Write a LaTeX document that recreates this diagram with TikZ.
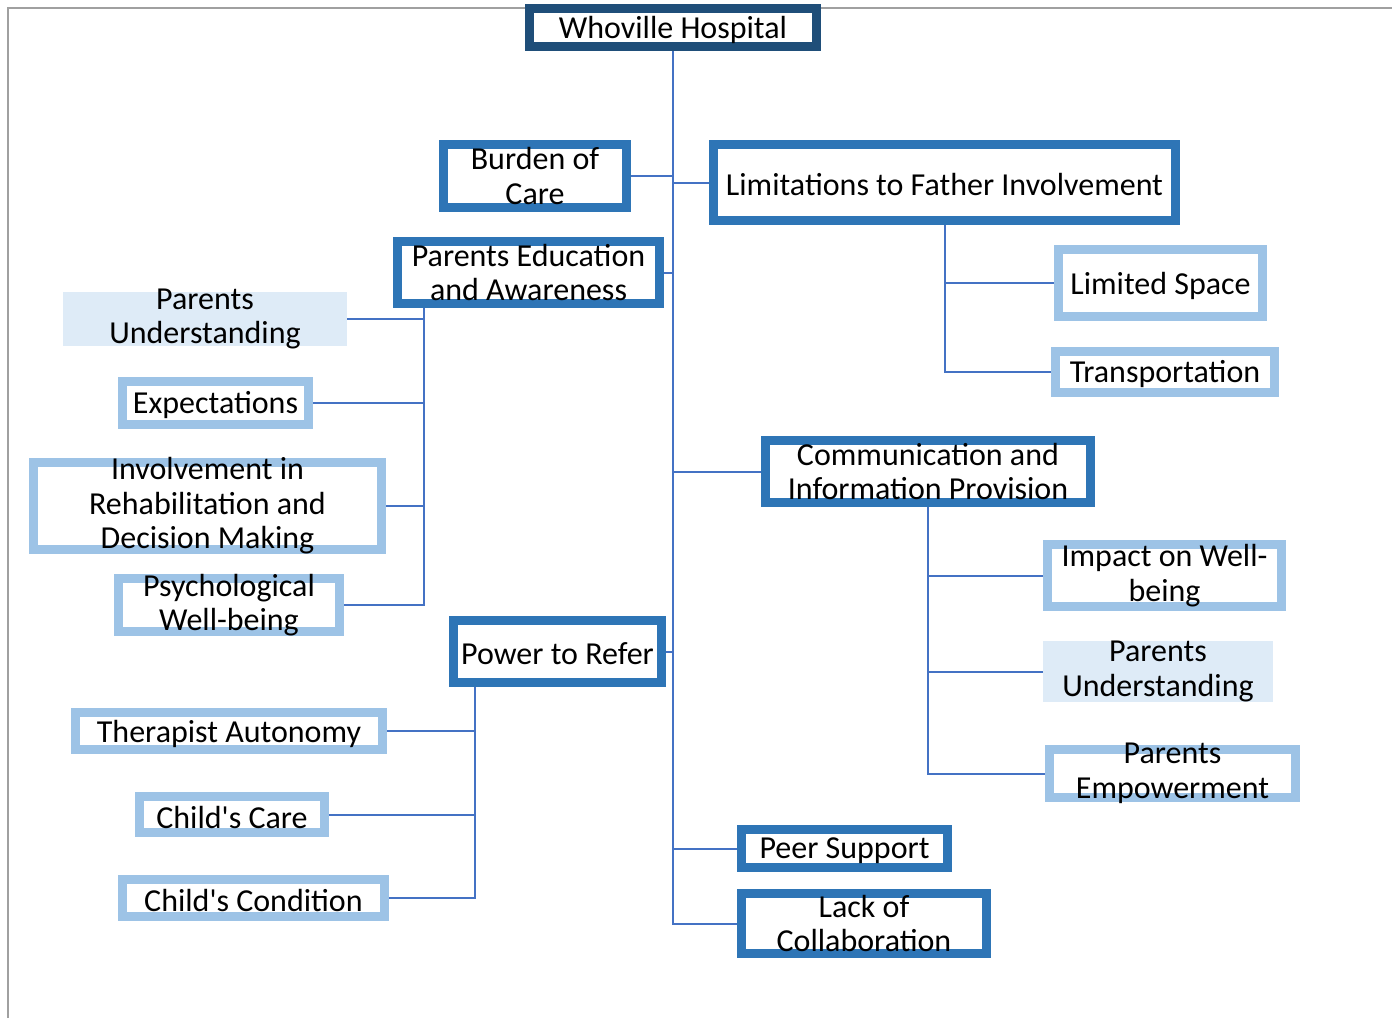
\documentclass[tikz,border=0pt]{standalone}
\usepackage{fontspec}
\setmainfont{Carlito}[Ligatures=TeXOff]
\definecolor{darkframe}{HTML}{1F4E79}
\definecolor{midframe}{HTML}{2E75B6}
\definecolor{lightframe}{HTML}{9DC3E6}
\definecolor{softfill}{HTML}{DEEBF7}
\definecolor{linkblue}{HTML}{4472C4}
\definecolor{edgegray}{HTML}{A0A0A0}
\begin{document}
\begin{tikzpicture}[x=1pt,y=-1pt,
  every label/.style={font=\fontsize{32}{34.5}\selectfont, align=center, inner sep=0pt, text=black},
  oneline/.style={yshift=-2.5pt},
  frame/.style={rectangle, inner sep=0pt, line width=9pt, fill=white},
  topbox/.style={frame, draw=darkframe},
  mainbox/.style={frame, draw=midframe},
  subbox/.style={frame, draw=lightframe},
  shadebox/.style={rectangle, inner sep=0pt, fill=softfill},
  conn/.style={draw=linkblue, line width=2pt}]
\useasboundingbox (0,0) rectangle (1392,1018);
\draw[edgegray, line width=2pt] (8,1018) -- (8,8) -- (1392,8);

% central spine and the themes hanging from it
\node[topbox, minimum width=287, minimum height=38, label={[oneline]center:{Whoville Hospital}}] (top) at (673,27.5) {};
\node[mainbox, minimum width=183, minimum height=63, label=center:{Burden of\\Care}] (burden) at (535,176) {};
\node[mainbox, minimum width=262, minimum height=62, label=center:{Parents Education\\and Awareness}] (pea) at (528.5,272.5) {};
\node[mainbox, minimum width=462, minimum height=76, label={[oneline]center:{Limitations to Father Involvement}}] (lim) at (944.5,182.5) {};
\node[mainbox, minimum width=325, minimum height=62, label=center:{Communication and\\Information Provision}] (comm) at (928,471.5) {};
\node[mainbox, minimum width=208, minimum height=62, label={[oneline]center:{Power to Refer}}] (power) at (557.5,651.5) {};
\node[mainbox, minimum width=206, minimum height=38, label={[oneline]center:{Peer Support}}] (peer) at (844.5,848.5) {};
\node[mainbox, minimum width=245, minimum height=60, label=center:{Lack of\\Collaboration}] (lack) at (864,923.5) {};

% sub-themes
\node[subbox, minimum width=204, minimum height=67, label={[oneline]center:{Limited Space}}] (space) at (1160.5,283) {};
\node[subbox, minimum width=219, minimum height=41, label={[oneline]center:{Transportation}}] (trans) at (1165,372) {};

\node[subbox, minimum width=234, minimum height=62, label=center:{Impact on Well-\\being}] (impact) at (1164.5,575.5) {};
\node[shadebox, minimum width=230, minimum height=61, label=center:{Parents\\Understanding}] (pur) at (1158,671.5) {};
\node[subbox, minimum width=246, minimum height=48, label=center:{Parents\\Empowerment}] (emp) at (1172.5,773.5) {};

\node[shadebox, minimum width=284, minimum height=54, label=center:{Parents\\Understanding}] (pul) at (205,319) {};
\node[subbox, minimum width=186, minimum height=43, label={[oneline]center:{Expectations}}] (expect) at (215.5,403) {};
\node[subbox, minimum width=348, minimum height=87, label=center:{Involvement in\\Rehabilitation and\\Decision Making}] (inv) at (207.5,506) {};
\node[subbox, minimum width=221, minimum height=53, label=center:{Psychological\\Well-being}] (psy) at (229,605) {};

\node[subbox, minimum width=307, minimum height=37, label={[oneline]center:{Therapist Autonomy}}] (ther) at (229,731) {};
\node[subbox, minimum width=185, minimum height=36, label={[oneline]center:{Child's Care}}] (ccare) at (232,814.5) {};
\node[subbox, minimum width=262, minimum height=37, label={[oneline]center:{Child's Condition}}] (ccond) at (253.5,898) {};

% branch points below the left-hand themes
\coordinate (peaFoot) at (424,308);
\coordinate (powerFoot) at (475,687);

% spine
\draw[conn] (top.south) |- (lack.west);
\draw[conn] (burden.east) -- (burden.east -| top.south);
\draw[conn] (pea.east) -- (pea.east -| top.south);
\draw[conn] (lim.west) -- (lim.west -| top.south);
\draw[conn] (comm.west) -- (comm.west -| top.south);
\draw[conn] (power.east) -- (power.east -| top.south);
\draw[conn] (peer.west) -- (peer.west -| top.south);

% limitations
\draw[conn] (lim.south) |- (trans.west);
\draw[conn] (lim.south |- space.west) -- (space.west);

% communication
\draw[conn] (comm.south) |- (emp.west);
\draw[conn] (comm.south |- impact.west) -- (impact.west);
\draw[conn] (comm.south |- pur.west) -- (pur.west);

% parents education
\draw[conn] (peaFoot) |- (psy.east);
\draw[conn] (peaFoot |- pul.east) -- (pul.east);
\draw[conn] (peaFoot |- expect.east) -- (expect.east);
\draw[conn] (peaFoot |- inv.east) -- (inv.east);

% power to refer
\draw[conn] (powerFoot) |- (ccond.east);
\draw[conn] (powerFoot |- ther.east) -- (ther.east);
\draw[conn] (powerFoot |- ccare.east) -- (ccare.east);
\end{tikzpicture}
\end{document}
